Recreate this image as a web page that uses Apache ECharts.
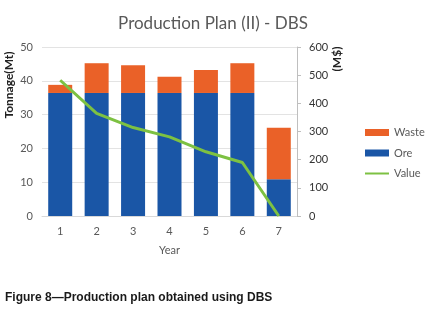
<!DOCTYPE html>
<html>
<head>
<meta charset="utf-8">
<script src="https://cdn.jsdelivr.net/npm/echarts@6/dist/echarts.min.js"></script>
<style>
  html, body { margin: 0; padding: 0; background: #fff; }
  #chart { width: 426px; height: 311px; }
</style>
</head>
<body>
<div id="chart"></div>
<script>
// data
const years = ['1', '2', '3', '4', '5', '6', '7']
const ore = [36.4, 36.4, 36.4, 36.4, 36.4, 36.4, 10.9]
const waste = [2.4, 8.8, 8.2, 4.8, 6.8, 8.8, 15.2]
const value = [482, 364, 314, 281, 228, 190, 0]
const leftTicks = [0, 10, 20, 30, 40, 50]
const rightTicks = [0, 100, 200, 300, 400, 500, 600]

const gray = '#595959'
const font = 'Lato, "Open Sans", sans-serif'

const chart = echarts.init(document.getElementById('chart'))

const option = {
  animation: false,
  title: {
    text: 'Production Plan (II) - DBS',
    left: 'center',
    top: 10,
    textStyle: { fontFamily: font, fontSize: 17, fontWeight: 'normal', color: gray }
  },
  legend: {
    data: [
      { name: 'Waste', icon: 'rect' },
      { name: 'Ore', icon: 'rect' },
      { name: 'Value', itemStyle: { opacity: 0 } }
    ],
    orient: 'vertical',
    left: 364,
    top: 127,
    padding: 0,
    itemWidth: 24,
    itemHeight: 7,
    itemGap: 9.5,
    textStyle: { fontFamily: font, fontSize: 11, color: gray }
  },
  grid: { left: 42, right: 129, top: 47, bottom: 95 },
  xAxis: {
    type: 'category',
    data: years,
    name: 'Year',
    nameLocation: 'middle',
    nameGap: 29,
    nameTextStyle: { fontFamily: font, fontSize: 11, color: gray },
    axisLine: { lineStyle: { color: '#d9d9d9' } },
    axisTick: { show: false },
    axisLabel: { fontFamily: font, fontSize: 11, color: gray, margin: 10 }
  },
  yAxis: [
    {
      type: 'value',
      min: leftTicks[0],
      max: leftTicks[leftTicks.length - 1],
      interval: 10,
      axisLine: { show: false },
      axisTick: { show: false },
      splitLine: { lineStyle: { color: '#e3e3e3' } },
      axisLabel: { fontFamily: font, fontSize: 11, color: gray, margin: 9 }
    },
    {
      type: 'value',
      min: rightTicks[0],
      max: rightTicks[rightTicks.length - 1],
      interval: 100,
      position: 'right',
      axisLine: { show: true, lineStyle: { color: '#bfbfbf' } },
      axisTick: { show: true, length: 4, lineStyle: { color: '#bfbfbf' } },
      splitLine: { show: false },
      axisLabel: { fontFamily: font, fontSize: 11, color: '#333', margin: 12 }
    }
  ],
  graphic: [
    {
      type: 'text',
      x: 9, y: 85,
      rotation: Math.PI / 2,
      style: {
        text: 'Tonnage(Mt)', fill: '#222',
        font: 'bold 12px ' + font,
        align: 'center', verticalAlign: 'middle'
      }
    },
    {
      type: 'text',
      x: 337, y: 59,
      rotation: Math.PI / 2,
      style: {
        text: '(M$)', fill: '#222',
        font: 'bold 12px ' + font,
        align: 'center', verticalAlign: 'middle'
      }
    },
    {
      type: 'text',
      x: 5, y: 298,
      style: {
        text: 'Figure 8\u2014Production plan obtained using DBS', fill: '#1a1a1a',
        font: 'bold 12px "Liberation Sans", Arial, sans-serif',
        align: 'left', verticalAlign: 'middle'
      }
    }
  ],
  series: [
    {
      name: 'Ore',
      type: 'bar',
      stack: 'tonnage',
      data: ore,
      barWidth: 24,
      itemStyle: { color: '#1a56a6' }
    },
    {
      name: 'Waste',
      type: 'bar',
      stack: 'tonnage',
      data: waste,
      barWidth: 24,
      itemStyle: { color: '#ea6128' }
    },
    {
      name: 'Value',
      type: 'line',
      yAxisIndex: 1,
      data: value,
      symbol: 'none',
      lineStyle: { color: '#7dc142', width: 3 },
      itemStyle: { color: '#7dc142' }
    }
  ]
}

chart.setOption(option)
</script>
</body>
</html>
